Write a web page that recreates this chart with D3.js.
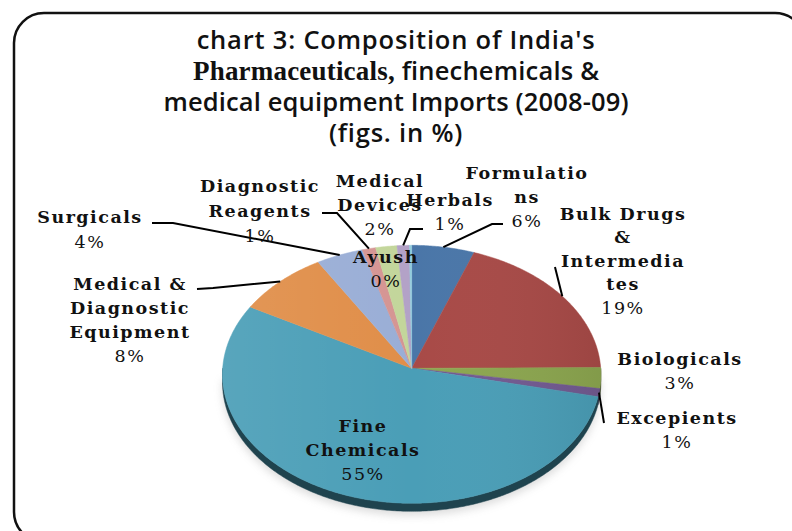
<!DOCTYPE html>
<html>
<head>
<meta charset="utf-8">
<script src="https://cdnjs.cloudflare.com/ajax/libs/d3/7.8.5/d3.min.js"></script>
<style>
    body { margin: 0; background: #fff; }
</style>
</head>
<body>
<script>
// data (share of imports, %)
var categories = ["Formulations", "Bulk Drugs & Intermediates", "Biologicals", "Excepients",
    "Fine Chemicals", "Medical & Diagnostic Equipment", "Surgicals", "Diagnostic Reagents",
    "Medical Devices", "Herbals", "Ayush"];
var values = [5.6, 19.3, 2.6, 1.0, 54.6, 8.3, 4.2, 1.2, 1.9, 1.1, 0.2];
var titleLines = ["chart 3: Composition  of India's", "Pharmaceuticals, finechemicals &",
    "medical equipment Imports (2008-09)", "(figs. in %)"];

// how the category names wrap in the data labels
var labelLines = [["Formulatio", "ns"], ["Bulk Drugs", "&", "Intermedia", "tes"], ["Biologicals"],
    ["Excepients"], ["Fine", "Chemicals"], ["Medical &", "Diagnostic", "Equipment"], ["Surgicals"],
    ["Diagnostic", "Reagents"], ["Medical", "Devices"], ["Herbals"], ["Ayush"]];

//custom look
var colorPallete = ["#4a76a8", "#a84a47", "#8ca64f", "#725a91", "#4a9eb7", "#e08e49",
    "#9aaed6", "#d59593", "#c3d69b", "#b3a2c7", "#93cddd"];
var width = 792, height = 531;
var cx = 411.7, cy = 368.3, rx = 189, ry = 128.7, persp = 0.0465, depth = 8;
var labelFont = "'DejaVu Serif', serif";
var titleWidths = [null, 406, 465, null];

// label layout: centre of first line, and leader elbows (null = no leader)
var labelPos = [[527, 172], [623, 213], [680, 358], [677, 417], [363, 425], [130, 283],
    [90, 216], [260, 185], [380, 180], [450, 199], [386, 256]];
var lineGap = [24, 23.5, 24.5, 24.5, 24, 24, 25, 25, 24, 24, 24];
var leaders = [[[492, 224], [503, 224]], [[555, 267]], null, [[604, 423]], null,
    [[213, 288], [197, 289]], [[173, 223], [152, 223]], [[337, 213], [322, 213]], null,
    [[410, 229], [423, 229]], null];

var svg = d3.select("body").append("svg")
    .attr("width", width)
    .attr("height", height);

var defs = svg.append("defs");
defs.append("filter").attr("id", "blur")
    .append("feGaussianBlur").attr("stdDeviation", 4);
var shade = defs.append("linearGradient").attr("id", "shade")
    .attr("x1", "0").attr("x2", "1").attr("y1", "0").attr("y2", "0");
shade.append("stop").attr("offset", "0").attr("stop-color", "#fff").attr("stop-opacity", 0.08);
shade.append("stop").attr("offset", "0.5").attr("stop-color", "#fff").attr("stop-opacity", 0);
shade.append("stop").attr("offset", "1").attr("stop-color", "#000").attr("stop-opacity", 0.07);

// chart area border
svg.append("rect")
    .attr("x", 14).attr("y", 13)
    .attr("width", 791).attr("height", 529)
    .attr("rx", 30).attr("ry", 30)
    .attr("fill", "#fff")
    .attr("stroke", "#111")
    .attr("stroke-width", 2.5);

// title
var title = svg.append("g").attr("class", "title");
titleLines.forEach(function (t, i) {
    var txt = title.append("text")
        .attr("x", 396)
        .attr("y", 49 + i * 31)
        .attr("text-anchor", "middle")
        .style("font-family", "'Open Sans', Lato, sans-serif")
        .style("font-weight", "600")
        .style("font-size", "25.5px")
        .style("fill", "#111");
    if (titleWidths[i]) {
        txt.attr("textLength", titleWidths[i]).attr("lengthAdjust", "spacing");
    } else {
        txt.style("letter-spacing", "0.8px");
    }
    if (i === 1) {
        var parts = t.split(" ");
        txt.append("tspan").text(parts[0] + " ")
            .style("font-family", "'Liberation Serif', serif")
            .style("font-weight", "bold")
            .style("font-size", "27px");
        txt.append("tspan").text(parts.slice(1).join(" "));
    } else {
        txt.text(t);
    }
});

// perspective projection of a point on the pie disc (angle clockwise from 12 o'clock)
function project(a, r, dy) {
    var u = r * Math.sin(a);
    var v = -r * Math.cos(a);
    var s = 1 / (1 - persp * v);
    return [cx + rx * u * s, cy + ry * v * s + (dy || 0)];
}

function arcPoints(a0, a1, dy) {
    var pts = [];
    var n = Math.max(2, Math.ceil((a1 - a0) / 0.01));
    for (var i = 0; i <= n; i++) {
        pts.push(project(a0 + (a1 - a0) * i / n, 1, dy));
    }
    return pts;
}

var pie = d3.pie().sort(null).value(function (d) { return d; });
var arcs = pie(values);
var line = d3.line();

// soft shadow under the pie
svg.append("path")
    .attr("d", line(arcPoints(Math.PI / 2, Math.PI * 1.5, depth + 4)) + "Z")
    .attr("fill", "#999")
    .attr("opacity", 0.35)
    .attr("filter", "url(#blur)");

// side walls (front half only)
var sides = svg.append("g").attr("class", "sides");
arcs.forEach(function (d, i) {
    var a0 = Math.max(d.startAngle, Math.PI / 2);
    var a1 = Math.min(d.endAngle, Math.PI * 1.5);
    if (a1 <= a0) return;
    var pts = arcPoints(a0, a1, 0).concat(arcPoints(a0, a1, depth).reverse());
    sides.append("path")
        .attr("d", line(pts) + "Z")
        .attr("fill", d3.color(colorPallete[i]).darker(2.4))
        .attr("stroke", d3.color(colorPallete[i]).darker(2.4))
        .attr("stroke-width", 0.5);
});

// top faces
var tops = svg.append("g").attr("class", "slices");
arcs.forEach(function (d, i) {
    var pts = [project(0, 0)].concat(arcPoints(d.startAngle, d.endAngle, 0));
    tops.append("path")
        .attr("d", line(pts) + "Z")
        .attr("fill", colorPallete[i])
        .attr("stroke", colorPallete[i])
        .attr("stroke-width", 0.5);
});
// light from the left
tops.append("path")
    .attr("d", line(arcPoints(0, Math.PI * 2, 0)) + "Z")
    .attr("fill", "url(#shade)");

// leader lines
var leaderG = svg.append("g").attr("class", "leaders");
arcs.forEach(function (d, i) {
    if (!leaders[i]) return;
    var start = project((d.startAngle + d.endAngle) / 2, 1, 0);
    leaderG.append("path")
        .attr("d", line([start].concat(leaders[i])))
        .attr("fill", "none")
        .attr("stroke", "#000")
        .attr("stroke-width", 2);
});

// data labels
var labelG = svg.append("g").attr("class", "labels");
arcs.forEach(function (d, i) {
    var lines = labelLines[i].concat([Math.round(values[i]) + "%"]);
    var txt = labelG.append("text")
        .attr("text-anchor", "middle")
        .style("font-family", labelFont)
        .style("font-weight", "bold")
        .style("font-size", "17.5px")
        .style("letter-spacing", "1.5px")
        .style("fill", "#111");
    lines.forEach(function (l, j) {
        txt.append("tspan")
            .attr("x", labelPos[i][0])
            .attr("y", labelPos[i][1] + j * lineGap[i] + 6.5)
            .style("font-weight", j === lines.length - 1 ? "normal" : "bold")
            .text(l);
    });
});
</script>
</body>
</html>
